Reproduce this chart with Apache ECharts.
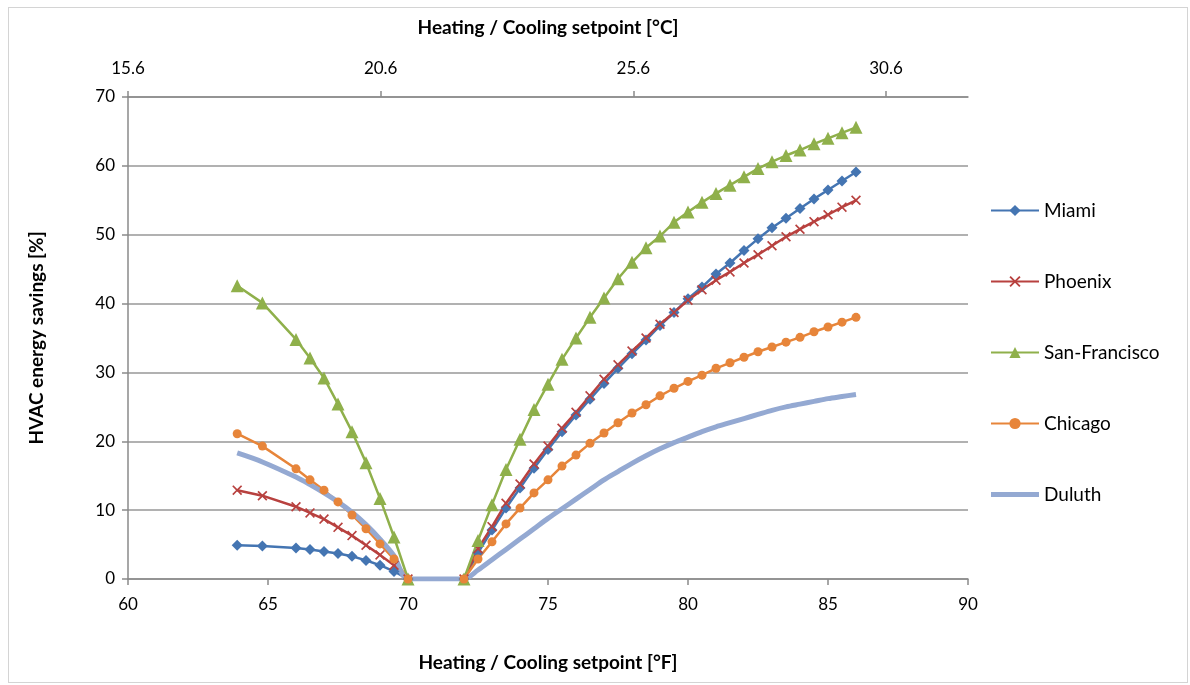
<!DOCTYPE html>
<html>
<head>
<meta charset="utf-8">
<script src="https://cdn.jsdelivr.net/npm/echarts@6/dist/echarts.min.js"></script>
<style>
  html, body { margin: 0; padding: 0; background: #fff; }
  #frame {
    position: absolute; left: 8px; top: 7px; width: 1180px; height: 676px;
    border: 1px solid #d4d4d4; box-sizing: border-box;
  }
  #chart { position: absolute; left: 0; top: 0; width: 1190px; height: 685px; }
</style>
</head>
<body>
<div id="frame"></div>
<div id="chart"></div>
<script>
// setpoints in °F (bottom axis)
const setpointF = [63.9, 64.8, 66.0, 66.5, 67.0, 67.5, 68.0, 68.5, 69.0, 69.5, 70.0,
  72.0, 72.5, 73.0, 73.5, 74.0, 74.5, 75.0, 75.5, 76.0, 76.5, 77.0, 77.5, 78.0, 78.5,
  79.0, 79.5, 80.0, 80.5, 81.0, 81.5, 82.0, 82.5, 83.0, 83.5, 84.0, 84.5, 85.0, 85.5, 86.0]

// HVAC energy savings [%]
const miami = [4.9, 4.8, 4.5, 4.3, 4.0, 3.7, 3.3, 2.7, 2.0, 1.1, 0,
  0, 3.8, 7.1, 10.3, 13.2, 16.1, 18.8, 21.4, 23.8, 26.1, 28.4, 30.6, 32.7, 34.7,
  36.8, 38.7, 40.7, 42.4, 44.3, 45.9, 47.7, 49.4, 51.0, 52.4, 53.8, 55.2, 56.5, 57.8, 59.1]
const phoenix = [12.9, 12.1, 10.5, 9.6, 8.7, 7.5, 6.3, 4.9, 3.5, 2.0, 0,
  0, 4.4, 7.6, 11.0, 13.8, 16.7, 19.3, 21.9, 24.2, 26.6, 29.0, 31.1, 33.1, 35.0,
  37.0, 38.7, 40.5, 42.0, 43.4, 44.6, 45.9, 47.1, 48.4, 49.7, 50.8, 51.9, 52.9, 54.0, 55.0]
const sanFrancisco = [42.6, 40.1, 34.8, 32.1, 29.2, 25.4, 21.4, 16.9, 11.7, 6.1, 0,
  0, 5.6, 10.8, 15.9, 20.3, 24.6, 28.3, 31.9, 35.0, 38.0, 40.8, 43.6, 46.0, 48.1,
  49.8, 51.8, 53.3, 54.7, 56.0, 57.2, 58.4, 59.6, 60.6, 61.5, 62.3, 63.2, 64.0, 64.8, 65.6]
const chicago = [21.1, 19.3, 16.0, 14.4, 12.9, 11.2, 9.3, 7.3, 5.1, 2.9, 0,
  0, 2.9, 5.4, 8.0, 10.3, 12.5, 14.4, 16.4, 18.0, 19.7, 21.2, 22.7, 24.1, 25.3,
  26.6, 27.7, 28.7, 29.6, 30.6, 31.4, 32.2, 33.0, 33.7, 34.4, 35.1, 35.9, 36.6, 37.3, 38.0]
const duluth = [18.3, 17.0, 14.8, 13.7, 12.5, 11.2, 9.7, 7.9, 5.8, 3.4, 0,
  0, 1.3, 2.8, 4.3, 5.8, 7.3, 8.8, 10.2, 11.6, 13.0, 14.4, 15.6, 16.8, 17.9,
  18.9, 19.8, 20.6, 21.4, 22.1, 22.7, 23.3, 23.9, 24.5, 25.0, 25.4, 25.8, 26.2, 26.5, 26.8]

const font = 'Lato, "Noto Sans", sans-serif'
const axisGray = '#8a8a8a'

const pairs = (ys) => setpointF.map((x, i) => [x, ys[i]])
const crossPath = 'path://M0,1.2L1.2,0L5,3.8L8.8,0L10,1.2L6.2,5L10,8.8L8.8,10L5,6.2L1.2,10L0,8.8L3.8,5Z'

function lineSeries (name, data, color, symbol, size) {
  return {
    name,
    type: 'line',
    data: pairs(data),
    symbol,
    symbolSize: size,
    showAllSymbol: true,
    lineStyle: { color, width: 2.5 },
    itemStyle: { color },
    emphasis: { disabled: true }
  }
}

const chart = echarts.init(document.getElementById('chart'))
chart.setOption({
  animation: false,
  textStyle: { fontFamily: font },
  grid: { left: 128, right: 222, top: 97, bottom: 106 },
  legend: {
    orient: 'vertical',
    left: 985,
    top: 196,
    itemWidth: 48,
    itemHeight: 14,
    itemGap: 52,
    textStyle: { fontSize: 19, color: '#000', fontFamily: font },
    data: ['Miami', 'Phoenix', 'San-Francisco', 'Chicago',
      { name: 'Duluth', icon: 'path://M0,0L48,0L48,5L0,5Z' }]
  },
  xAxis: [
    {
      type: 'value',
      position: 'bottom',
      min: 60,
      max: 90,
      interval: 5,
      name: 'Heating / Cooling setpoint [°F]',
      nameLocation: 'middle',
      nameGap: 74,
      nameTextStyle: { fontSize: 19, fontWeight: 'bold', color: '#000' },
      axisLine: { show: true, lineStyle: { color: axisGray, width: 1.5 } },
      axisTick: { show: true, length: 6, lineStyle: { color: axisGray, width: 1.5 } },
      axisLabel: { fontSize: 17, color: '#000', margin: 17 },
      splitLine: { show: false }
    },
    {
      type: 'value',
      position: 'top',
      min: 15.6,
      max: (90 - 32) * 5 / 9,
      interval: 5,
      name: 'Heating / Cooling setpoint [°C]',
      nameLocation: 'middle',
      nameGap: 60,
      nameTextStyle: { fontSize: 19, fontWeight: 'bold', color: '#000' },
      axisLine: { show: true, lineStyle: { color: axisGray, width: 1.5 } },
      axisTick: { show: true, length: 6, lineStyle: { color: axisGray, width: 1.5 } },
      axisLabel: {
        fontSize: 17, color: '#000', margin: 20, showMaxLabel: false,
        formatter: (v) => v.toFixed(1)
      },
      splitLine: { show: false }
    }
  ],
  yAxis: {
    type: 'value',
    min: 0,
    max: 70,
    interval: 10,
    name: 'HVAC energy savings [%]',
    nameLocation: 'middle',
    nameRotate: 90,
    nameGap: 82,
    nameTextStyle: { fontSize: 19, fontWeight: 'bold', color: '#000' },
    axisLine: { show: true, lineStyle: { color: axisGray, width: 1.5 } },
    axisTick: { show: true, length: 6, lineStyle: { color: axisGray, width: 1.5 } },
    axisLabel: { fontSize: 17, color: '#000', margin: 13 },
    splitLine: { show: true, lineStyle: { color: '#979797', width: 1.5 } }
  },
  series: [
    lineSeries('Miami', miami, '#4475B2', 'diamond', 11),
    lineSeries('Phoenix', phoenix, '#B8413F', crossPath, 10),
    lineSeries('San-Francisco', sanFrancisco, '#8FB04B', 'triangle', 13),
    lineSeries('Chicago', chicago, '#E7853A', 'circle', 9),
    {
      name: 'Duluth',
      type: 'line',
      data: pairs(duluth),
      smooth: 0.3,
      symbol: 'none',
      lineStyle: { color: '#94A9D2', width: 5 },
      itemStyle: { color: '#94A9D2' },
      emphasis: { disabled: true }
    }
  ]
})
window.addEventListener('resize', () => {
  chart.resize()
})
</script>
</body>
</html>
